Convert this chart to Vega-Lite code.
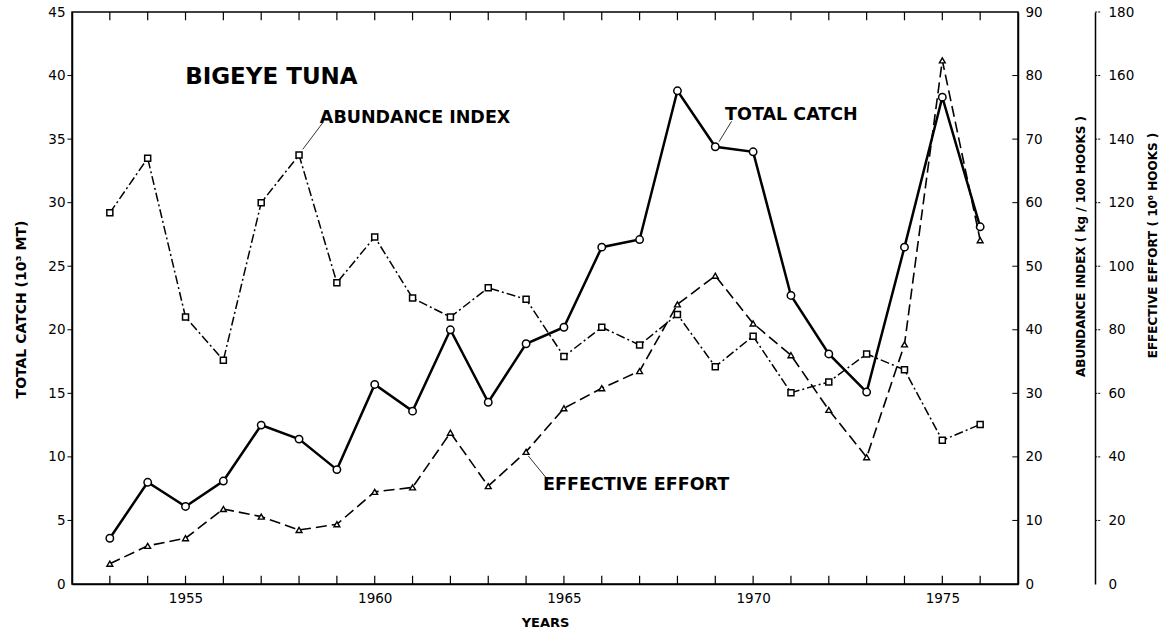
{
  "$schema": "https://vega.github.io/schema/vega-lite/v6.json",
  "width": 946,
  "height": 572,
  "autosize": {"type": "none"},
  "padding": {"left": 72, "top": 12, "right": 157, "bottom": 57},
  "background": "white",
  "config": {
    "view": {"stroke": "black", "strokeWidth": 1.5},
    "axis": {
      "domainColor": "black",
      "domainWidth": 1.5,
      "ticks": false,
      "zindex": 1,
      "labelColor": "black",
      "labelFont": "DejaVu Sans",
      "labelFontSize": 13.5,
      "titleColor": "black",
      "titleFont": "DejaVu Sans",
      "titleFontWeight": "bold",
      "grid": false
    }
  },
  "datasets": {
    "catch": [
      {"year": 1953, "catch": 3.6}, {"year": 1954, "catch": 8.0}, {"year": 1955, "catch": 6.1},
      {"year": 1956, "catch": 8.1}, {"year": 1957, "catch": 12.5}, {"year": 1958, "catch": 11.4},
      {"year": 1959, "catch": 9.0}, {"year": 1960, "catch": 15.7}, {"year": 1961, "catch": 13.6},
      {"year": 1962, "catch": 20.0}, {"year": 1963, "catch": 14.3}, {"year": 1964, "catch": 18.9},
      {"year": 1965, "catch": 20.2}, {"year": 1966, "catch": 26.5}, {"year": 1967, "catch": 27.1},
      {"year": 1968, "catch": 38.8}, {"year": 1969, "catch": 34.4}, {"year": 1970, "catch": 34.0},
      {"year": 1971, "catch": 22.7}, {"year": 1972, "catch": 18.1}, {"year": 1973, "catch": 15.1},
      {"year": 1974, "catch": 26.5}, {"year": 1975, "catch": 38.3}, {"year": 1976, "catch": 28.1}
    ],
    "abund": [
      {"year": 1953, "abundance": 58.4}, {"year": 1954, "abundance": 67.0}, {"year": 1955, "abundance": 42.0},
      {"year": 1956, "abundance": 35.2}, {"year": 1957, "abundance": 60.0}, {"year": 1958, "abundance": 67.5},
      {"year": 1959, "abundance": 47.4}, {"year": 1960, "abundance": 54.6}, {"year": 1961, "abundance": 45.0},
      {"year": 1962, "abundance": 42.0}, {"year": 1963, "abundance": 46.6}, {"year": 1964, "abundance": 44.8},
      {"year": 1965, "abundance": 35.8}, {"year": 1966, "abundance": 40.4}, {"year": 1967, "abundance": 37.6},
      {"year": 1968, "abundance": 42.4}, {"year": 1969, "abundance": 34.2}, {"year": 1970, "abundance": 39.0},
      {"year": 1971, "abundance": 30.1}, {"year": 1972, "abundance": 31.8}, {"year": 1973, "abundance": 36.2},
      {"year": 1974, "abundance": 33.7}, {"year": 1975, "abundance": 22.6}, {"year": 1976, "abundance": 25.1}
    ],
    "effort": [
      {"year": 1953, "effort": 6.4}, {"year": 1954, "effort": 12.0}, {"year": 1955, "effort": 14.4},
      {"year": 1956, "effort": 23.6}, {"year": 1957, "effort": 21.2}, {"year": 1958, "effort": 17.0},
      {"year": 1959, "effort": 18.8}, {"year": 1960, "effort": 29.0}, {"year": 1961, "effort": 30.4},
      {"year": 1962, "effort": 47.6}, {"year": 1963, "effort": 30.8}, {"year": 1964, "effort": 41.6},
      {"year": 1965, "effort": 55.3}, {"year": 1966, "effort": 61.6}, {"year": 1967, "effort": 67.0},
      {"year": 1968, "effort": 88.0}, {"year": 1969, "effort": 97.0}, {"year": 1970, "effort": 82.0},
      {"year": 1971, "effort": 72.0}, {"year": 1972, "effort": 54.8}, {"year": 1973, "effort": 39.9},
      {"year": 1974, "effort": 75.4}, {"year": 1975, "effort": 164.8}, {"year": 1976, "effort": 108.2}
    ],
    "years": [
      {"year": 1953}, {"year": 1954}, {"year": 1955}, {"year": 1956}, {"year": 1957}, {"year": 1958},
      {"year": 1959}, {"year": 1960}, {"year": 1961}, {"year": 1962}, {"year": 1963}, {"year": 1964},
      {"year": 1965}, {"year": 1966}, {"year": 1967}, {"year": 1968}, {"year": 1969}, {"year": 1970},
      {"year": 1971}, {"year": 1972}, {"year": 1973}, {"year": 1974}, {"year": 1975}, {"year": 1976}
    ],
    "catchTicks": [
      {"catch": 5}, {"catch": 10}, {"catch": 15}, {"catch": 20}, {"catch": 25},
      {"catch": 30}, {"catch": 35}, {"catch": 40}
    ],
    "abundTicks": [
      {"abundance": 10}, {"abundance": 20}, {"abundance": 30}, {"abundance": 40},
      {"abundance": 50}, {"abundance": 60}, {"abundance": 70}, {"abundance": 80}
    ],
    "effortTicks": [
      {"effort": 20}, {"effort": 40}, {"effort": 60}, {"effort": 80},
      {"effort": 100}, {"effort": 120}, {"effort": 140}, {"effort": 160}, {"effort": 180}
    ],
    "notes": [
      {"year": 1958.55, "catch": 36.7, "label": "ABUNDANCE INDEX"},
      {"year": 1969.26, "catch": 36.9, "label": "TOTAL CATCH"},
      {"year": 1964.45, "catch": 7.8, "label": "EFFECTIVE EFFORT"}
    ],
    "heading": [
      {"year": 1954.99, "catch": 39.9, "label": "BIGEYE TUNA"}
    ],
    "leaders": [
      {"year": 1958.1, "catch": 34.2, "year2": 1958.63, "catch2": 36.3},
      {"year": 1969.1, "catch": 34.8, "year2": 1969.43, "catch2": 36.4},
      {"year": 1964.06, "catch": 10.07, "year2": 1964.54, "catch2": 8.32}
    ]
  },
  "layer": [
    {
      "data": {"name": "catch"},
      "mark": {"type": "line", "color": "black", "strokeWidth": 2.5},
      "encoding": {
        "x": {
          "field": "year", "type": "quantitative",
          "scale": {"domain": [1952, 1977], "nice": false, "zero": false},
          "axis": {
            "orient": "bottom",
            "title": "YEARS",
            "titleFontSize": 13,
            "titlePadding": 12,
            "values": [1955, 1960, 1965, 1970, 1975],
            "format": "d",
            "labelPadding": 7
          }
        },
        "y": {
          "field": "catch", "type": "quantitative",
          "scale": {"domain": [0, 45], "nice": false},
          "axis": {
            "orient": "left",
            "title": "TOTAL CATCH (10³ MT)",
            "titleFontSize": 14,
            "titleAngle": 270,
            "titleX": -51,
            "titleY": 297,
            "titleBaseline": "middle",
            "values": [0,5,10,15,20,25,30,35,40,45],
            "labelPadding": 7
          }
        }
      }
    },
    {
      "data": {"name": "years"},
      "mark": {"type": "rule", "color": "black", "strokeWidth": 1.2},
      "encoding": {
        "x": {"field": "year", "type": "quantitative", "axis": null},
        "y": {"datum": 0, "type": "quantitative", "scale": {"domain": [0, 45], "nice": false}, "axis": null},
        "y2": {"datum": 0.65}
      }
    },
    {
      "data": {"name": "years"},
      "mark": {"type": "rule", "color": "black", "strokeWidth": 1.2},
      "encoding": {
        "x": {"field": "year", "type": "quantitative", "axis": null},
        "y": {"datum": 45, "type": "quantitative", "scale": {"domain": [0, 45], "nice": false}, "axis": null},
        "y2": {"datum": 44.35}
      }
    },
    {
      "data": {"name": "catchTicks"},
      "mark": {"type": "rule", "color": "black", "strokeWidth": 1},
      "encoding": {
        "y": {"field": "catch", "type": "quantitative", "scale": {"domain": [0, 45], "nice": false}, "axis": null},
        "x": {"datum": 1952, "type": "quantitative", "axis": null},
        "x2": {"datum": 1951.88}
      }
    },
    {
      "data": {"name": "catch"},
      "mark": {"type": "point", "shape": "circle", "filled": true, "fill": "white", "stroke": "black", "strokeWidth": 1.5, "size": 55, "opacity": 1},
      "encoding": {
        "x": {"field": "year", "type": "quantitative", "axis": null},
        "y": {"field": "catch", "type": "quantitative", "scale": {"domain": [0, 45], "nice": false}, "axis": null}
      }
    },
    {
      "data": {"name": "leaders"},
      "mark": {"type": "rule", "color": "black", "strokeWidth": 0.8},
      "encoding": {
        "x": {"field": "year", "type": "quantitative", "axis": null},
        "y": {"field": "catch", "type": "quantitative", "scale": {"domain": [0, 45], "nice": false}, "axis": null},
        "x2": {"field": "year2"},
        "y2": {"field": "catch2"}
      }
    },
    {
      "data": {"name": "notes"},
      "mark": {"type": "text", "align": "left", "baseline": "middle", "font": "DejaVu Sans", "fontWeight": "bold", "fontSize": 17.5, "color": "black"},
      "encoding": {
        "x": {"field": "year", "type": "quantitative", "axis": null},
        "y": {"field": "catch", "type": "quantitative", "scale": {"domain": [0, 45], "nice": false}, "axis": null},
        "text": {"field": "label"}
      }
    },
    {
      "data": {"name": "heading"},
      "mark": {"type": "text", "align": "left", "baseline": "middle", "font": "DejaVu Sans", "fontWeight": "bold", "fontSize": 23, "color": "black"},
      "encoding": {
        "x": {"field": "year", "type": "quantitative", "axis": null},
        "y": {"field": "catch", "type": "quantitative", "scale": {"domain": [0, 45], "nice": false}, "axis": null},
        "text": {"field": "label"}
      }
    },
    {
      "data": {"name": "abund"},
      "mark": {"type": "line", "color": "black", "strokeWidth": 1.5, "strokeDash": [9, 3, 2, 3]},
      "encoding": {
        "x": {"field": "year", "type": "quantitative", "axis": null},
        "y": {
          "field": "abundance", "type": "quantitative",
          "scale": {"domain": [0, 90], "nice": false},
          "axis": {
            "orient": "right",
            "title": "ABUNDANCE INDEX ( kg / 100 HOOKS )",
            "titleFontSize": 12,
            "titleAngle": 270,
            "titleX": 62,
            "titleY": 234,
            "titleBaseline": "middle",
            "values": [0,10,20,30,40,50,60,70,80,90],
            "labelPadding": 7
          }
        }
      }
    },
    {
      "data": {"name": "abundTicks"},
      "mark": {"type": "rule", "color": "black", "strokeWidth": 1},
      "encoding": {
        "y": {"field": "abundance", "type": "quantitative", "scale": {"domain": [0, 90], "nice": false}, "axis": null},
        "x": {"datum": 1977, "type": "quantitative", "axis": null},
        "x2": {"datum": 1976.85}
      }
    },
    {
      "data": {"name": "abund"},
      "mark": {"type": "point", "shape": "square", "filled": true, "fill": "white", "stroke": "black", "strokeWidth": 1.5, "size": 36, "opacity": 1},
      "encoding": {
        "x": {"field": "year", "type": "quantitative", "axis": null},
        "y": {"field": "abundance", "type": "quantitative", "scale": {"domain": [0, 90], "nice": false}, "axis": null}
      }
    },
    {
      "data": {"name": "effort"},
      "mark": {"type": "line", "color": "black", "strokeWidth": 1.6, "strokeDash": [11, 5]},
      "encoding": {
        "x": {"field": "year", "type": "quantitative", "axis": null},
        "y": {
          "field": "effort", "type": "quantitative",
          "scale": {"domain": [0, 180], "nice": false},
          "axis": {
            "orient": "right",
            "offset": 77,
            "title": "EFFECTIVE EFFORT ( 10⁶ HOOKS )",
            "titleFontSize": 12,
            "titleAngle": 270,
            "titleX": 57,
            "titleY": 233,
            "titleBaseline": "middle",
            "values": [0,20,40,60,80,100,120,140,160,180],
            "labelPadding": 13
          }
        }
      }
    },
    {
      "data": {"name": "effortTicks"},
      "mark": {"type": "rule", "color": "black", "strokeWidth": 1, "strokeDash": [2, 1]},
      "encoding": {
        "y": {"field": "effort", "type": "quantitative", "scale": {"domain": [0, 180], "nice": false}, "axis": null},
        "x": {"datum": 1979.04, "type": "quantitative", "axis": null},
        "x2": {"datum": 1979.2}
      }
    },
    {
      "data": {"name": "effort"},
      "mark": {"type": "point", "shape": "triangle-up", "filled": true, "fill": "white", "stroke": "black", "strokeWidth": 1.4, "size": 34, "opacity": 1},
      "encoding": {
        "x": {"field": "year", "type": "quantitative", "axis": null},
        "y": {"field": "effort", "type": "quantitative", "scale": {"domain": [0, 180], "nice": false}, "axis": null}
      }
    }
  ],
  "resolve": {"scale": {"y": "independent"}, "axis": {"x": "independent"}}
}
